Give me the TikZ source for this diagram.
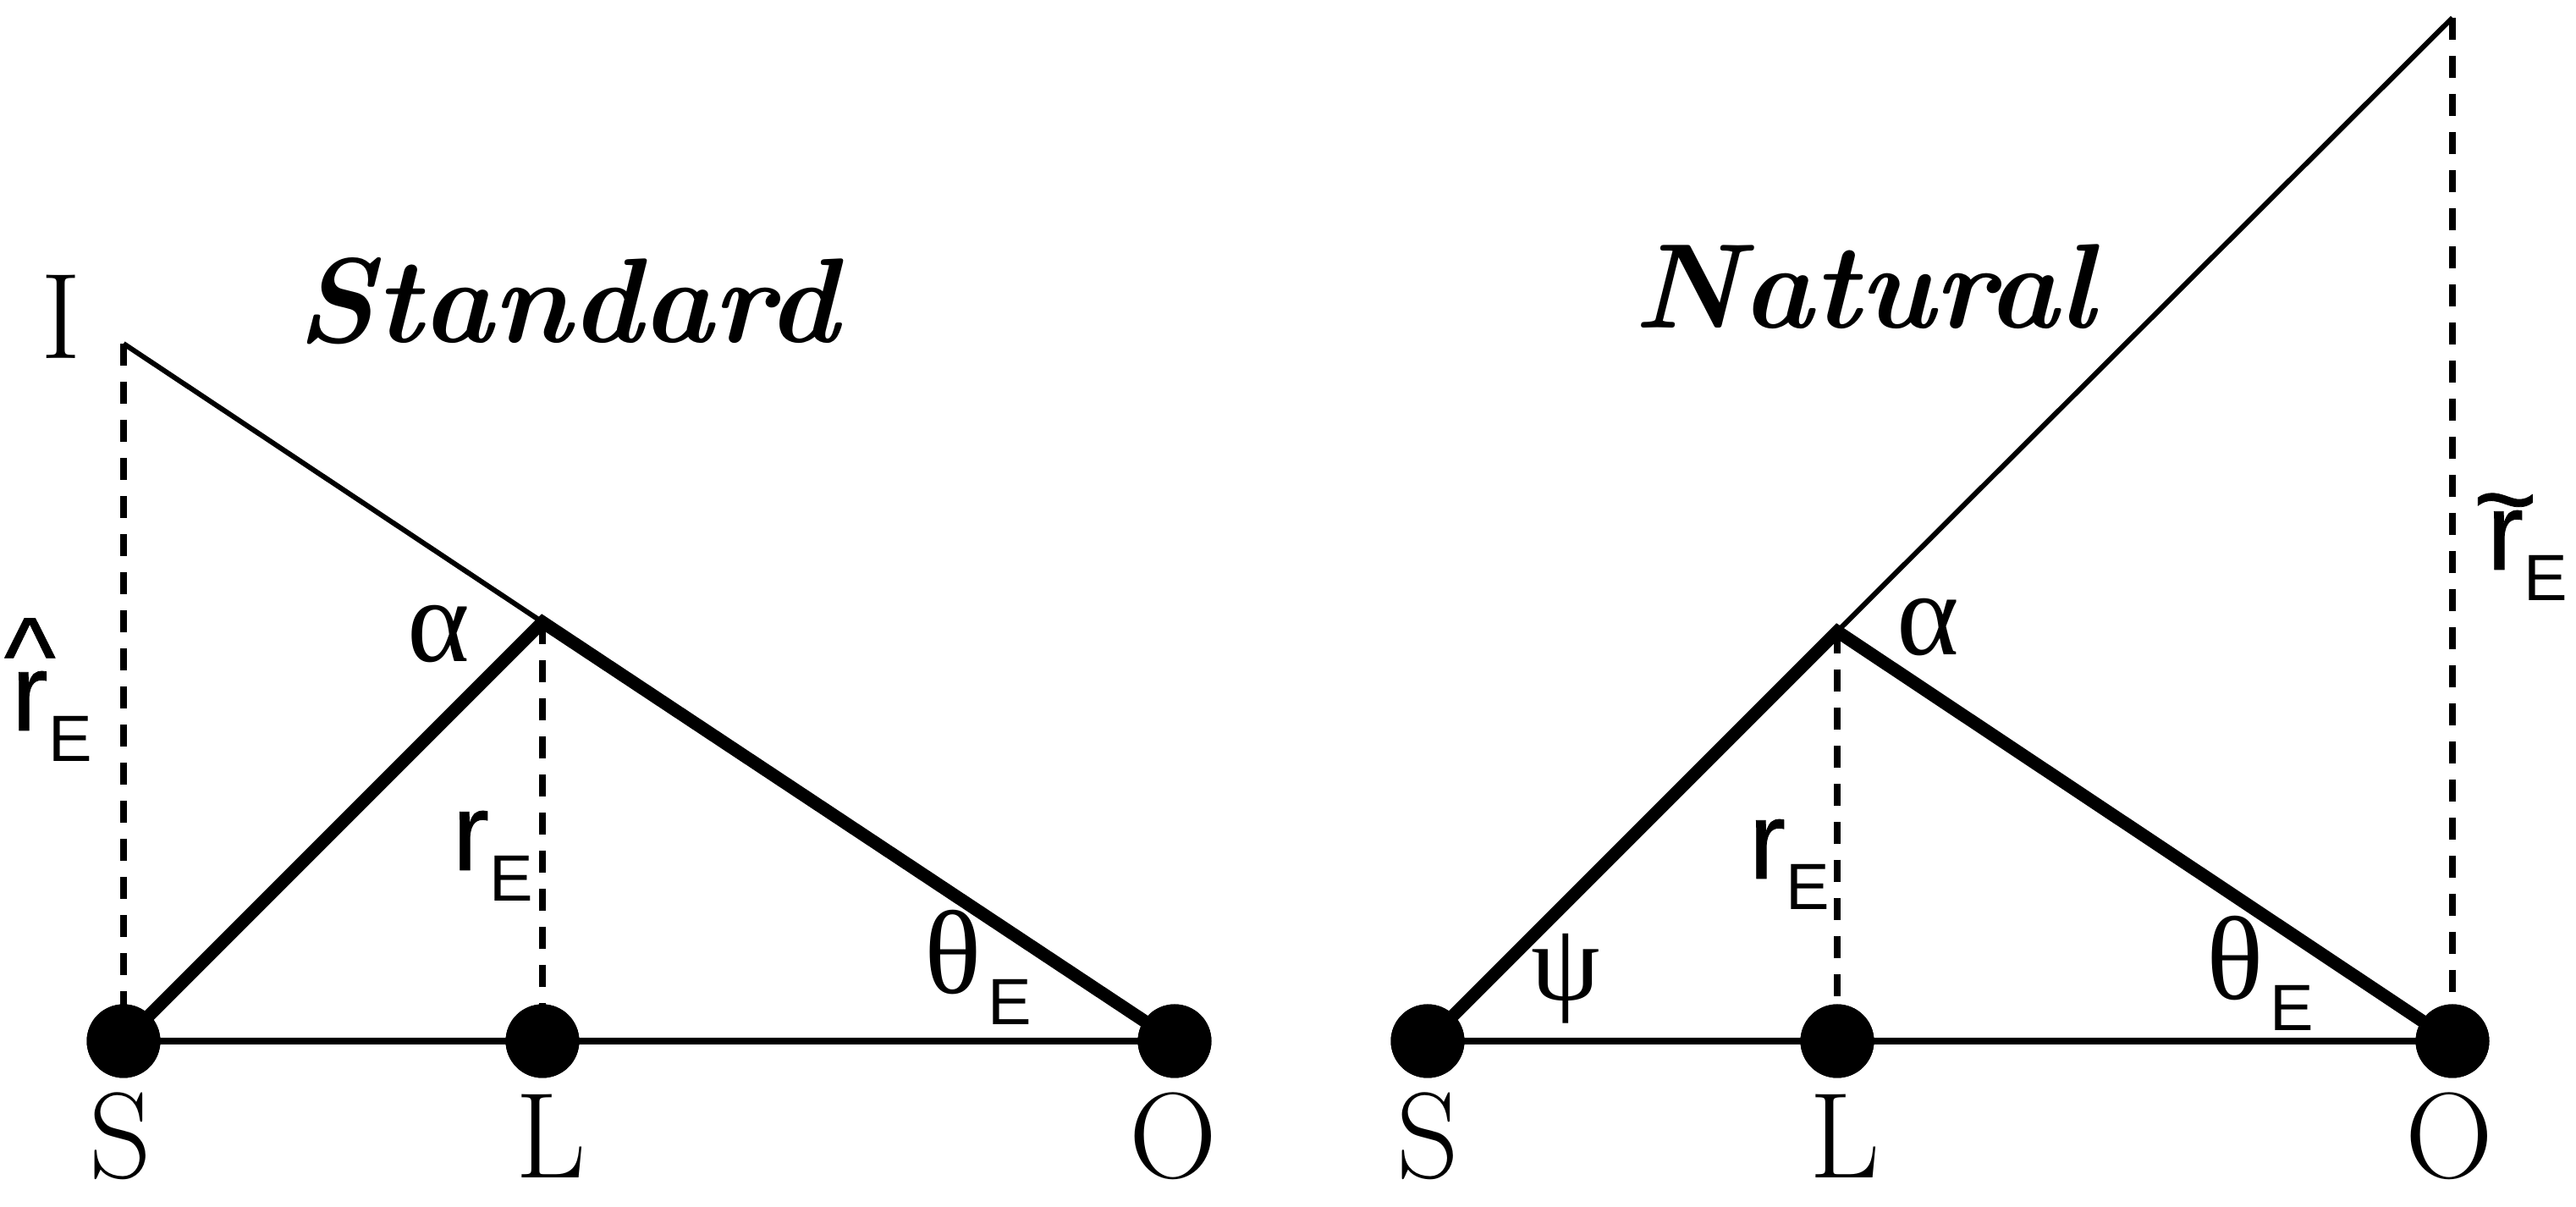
\documentclass[tikz,border=0pt]{standalone}
\usepackage{fontspec}
\newfontfamily\sflab{Liberation Sans}
\newfontfamily\sfrb{Liberation Sans}[FakeBold=0.6]
\newfontfamily\grk{Liberation Serif}
\newcommand\rfont{\fontsize{37pt}{40pt}\sfrb}
\newcommand\gfont{\fontsize{40pt}{43pt}\grk}
\newcommand\subE{\raisebox{-0.37cm}{\fontsize{22pt}{24pt}\sflab E}}
\begin{document}
\begin{tikzpicture}[
  dot/.style={circle,fill=black,inner sep=0pt,minimum size=0.87cm},
  baseln/.style={line width=2.3pt},
  heavy/.style={line width=4.3pt},
  thinln/.style={line width=1.7pt},
  dashln/.style={line width=2.5pt,dash pattern=on 0.26cm off 0.19cm},
  ptlabel/.style={inner sep=0pt,anchor=base,font=\fontsize{41pt}{44pt}\selectfont},
  title/.style={inner sep=0pt,anchor=base west,font=\fontsize{40.5pt}{44pt}\selectfont\bfseries\itshape},
  lab/.style={inner sep=0pt,anchor=base west},
]
\useasboundingbox (0,0) rectangle (30.44,14.26);
% ---------- left panel ----------
\coordinate (D1) at (6.41,6.91);
\coordinate (I1) at (1.46,10.20);
\node[dot] (S1) at (1.46,1.96) {};
\node[dot] (L1) at (6.41,1.96) {};
\node[dot] (O1) at (13.88,1.96) {};
% ---------- right panel ----------
\coordinate (D2) at (21.71,6.80);
\coordinate (T2) at (28.98,14.05);
\node[dot] (S2) at (16.87,1.96) {};
\node[dot] (L2) at (21.71,1.96) {};
\node[dot] (O2) at (28.98,1.96) {};
% lines (left)
\draw[baseln] (S1.center) -- (L1.center) -- (O1.center);
\draw[heavy] (S1.center) -- (D1) -- (O1.center);
\draw[thinln] (D1) -- (I1);
\draw[dashln] (I1) -- (S1.center);
\draw[dashln] (D1) -- (L1.center);
% lines (right)
\draw[baseln] (S2.center) -- (L2.center) -- (O2.center);
\draw[heavy] (S2.center) -- (D2) -- (O2.center);
\draw[thinln] (D2) -- (T2);
\draw[dashln] (T2) -- (O2.center);
\draw[dashln] (D2) -- (L2.center);
% dots on top
\foreach \n in {S1,L1,O1,S2,L2,O2} \fill (\n) circle (0.435cm);
% point labels
\node[ptlabel] (lS1) at (1.42,0.34) {S};
\node[ptlabel] (lL1) at (6.51,0.34) {L};
\node[ptlabel] (lO1) at (13.86,0.34) {O};
\node[ptlabel] (lS2) at (16.87,0.34) {S};
\node[ptlabel] (lL2) at (21.80,0.34) {L};
\node[ptlabel] (lO2) at (28.94,0.34) {O};
\node[ptlabel] (lI1) at (0.72,10.02) {I};
% titles
\node[title] (tStd) at (3.50,10.21) {Standard};
\node[title] (tNat) at (19.30,10.38) {Natural};
% Greek labels
\node[inner sep=0pt,anchor=base] (a1) at (5.18,6.44) {\gfont α};
\node[inner sep=0pt,anchor=base] (a2) at (22.78,6.52) {\gfont α};
\node[inner sep=0pt,anchor=center] (psi) at (18.50,2.70) {\fontsize{37pt}{40pt}\grk ψ};
\node[lab] (th1) at (10.92,2.52) {\gfont θ\kern0.07cm\subE};
\node[lab] (th2) at (26.07,2.45) {\gfont θ\kern0.07cm\subE};
% r labels
\node[lab] (rh) at (0.13,5.63) {\rfont\ooalign{r\cr\hidewidth\raisebox{0.33em}{\char"5E}\hidewidth\cr}\subE};
\node[lab] (r1) at (5.34,3.98) {\rfont r\subE};
\node[lab] (r2) at (20.66,3.88) {\rfont r\subE};
\node[lab] (rt) at (29.38,7.53) {\rfont\ooalign{r\cr\hidewidth\raisebox{0.30em}{\char"7E}\hidewidth\cr}\subE};
\end{tikzpicture}
\end{document}
